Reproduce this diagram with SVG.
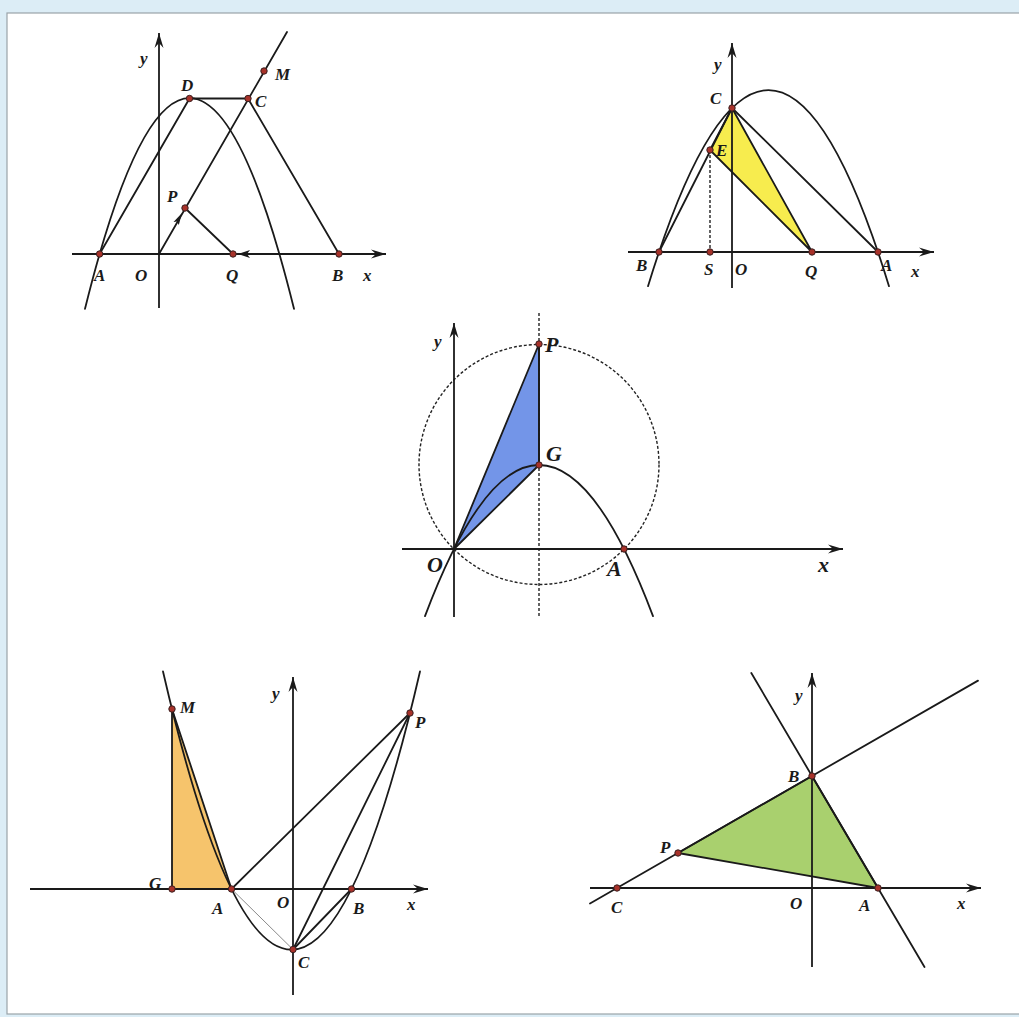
<svg xmlns="http://www.w3.org/2000/svg" width="1019" height="1017" viewBox="0 0 1019 1017">
<style>
.ln{stroke:#1a1a1a;stroke-width:1.8;fill:none;stroke-linecap:round}
.ax{stroke:#1a1a1a;stroke-width:1.8;fill:none;marker-end:url(#arr)}
.ds{stroke:#222;stroke-width:1.4;fill:none;stroke-dasharray:3 2}
.pt{fill:#a8322a;stroke:#3a2020;stroke-width:1}
.lb{font-family:"Liberation Serif","Times New Roman",serif;font-weight:bold;font-style:italic;font-size:17px;fill:#1a1a1a}
.lb2{font-family:"Liberation Serif","Times New Roman",serif;font-weight:bold;font-style:italic;font-size:22px;fill:#1a1a1a}
</style>
<defs>
<marker id="arr" viewBox="-15 -5 16 10" refX="0" refY="0" markerWidth="16" markerHeight="10" markerUnits="userSpaceOnUse" orient="auto">
<path d="M0,0 L-15,-4.5 L-10,0 L-15,4.5 Z" fill="#1a1a1a"/>
</marker>
</defs>
<rect x="0" y="0" width="1019" height="1017" fill="#dcedf6"/>
<rect x="7" y="13" width="1014" height="1001" fill="#ffffff" stroke="#9aa3a8" stroke-width="1.2"/>

<!-- Figure 1 -->
<g id="fig1">
<g id="fig1-connectors">
<line class="ax" x1="72" y1="254" x2="386" y2="254"/>
<line class="ax" x1="159" y1="308" x2="159" y2="33"/>
<path class="ln" d="M85,308.8 Q189.5,-112.7 294,308.8"/>
<polyline class="ln" points="99.6,254 189.5,98.5 248,98.5 339,254"/>
<line class="ln" x1="159" y1="254" x2="287" y2="32"/>
<line class="ln" x1="185" y1="208" x2="233" y2="254"/>
<polygon points="182,213 173.5,222 177,221.5 178.8,225" fill="#1a1a1a"/>
<polygon points="238,254 250,250 247,254 250,258" fill="#1a1a1a"/>
</g>
<g id="fig1-points">
<circle class="pt" cx="99.6" cy="254" r="3.2"/>
<circle class="pt" cx="189.5" cy="98.5" r="3.2"/>
<circle class="pt" cx="248" cy="98.5" r="3.2"/>
<circle class="pt" cx="264" cy="71" r="3.2"/>
<circle class="pt" cx="185" cy="208" r="3.2"/>
<circle class="pt" cx="233" cy="254" r="3.2"/>
<circle class="pt" cx="339" cy="254" r="3.2"/>
</g>
<g id="fig1-labels">
<text class="lb" x="140" y="64">y</text>
<text class="lb" x="181" y="91">D</text>
<text class="lb" x="255" y="107">C</text>
<text class="lb" x="275" y="80">M</text>
<text class="lb" x="167" y="202">P</text>
<text class="lb" x="94" y="281">A</text>
<text class="lb" x="135" y="281">O</text>
<text class="lb" x="226" y="281">Q</text>
<text class="lb" x="332" y="281">B</text>
<text class="lb" x="363" y="281">x</text>
</g>
</g>

<!-- Figure 2 -->
<g id="fig2">
<g id="fig2-connectors">
<polygon points="732,108 710,150 812,252" fill="#f7ec4e" stroke="#1a1a1a" stroke-width="1.8" stroke-linejoin="round"/>
<line class="ax" x1="628" y1="252" x2="934" y2="252"/>
<line class="ax" x1="732" y1="288" x2="732" y2="43"/>
<path class="ln" d="M648,286.2 Q768.5,-106.1 889,286.2"/>
<line class="ln" x1="659" y1="252" x2="732" y2="108"/>
<line class="ln" x1="732" y1="108" x2="878" y2="252"/>
<line class="ds" x1="710" y1="150" x2="710" y2="252"/>
</g>
<g id="fig2-points">
<circle class="pt" cx="732" cy="108" r="3.2"/>
<circle class="pt" cx="710" cy="150" r="3.2"/>
<circle class="pt" cx="659" cy="252" r="3.2"/>
<circle class="pt" cx="710" cy="252" r="3.2"/>
<circle class="pt" cx="812" cy="252" r="3.2"/>
<circle class="pt" cx="878" cy="252" r="3.2"/>
</g>
<g id="fig2-labels">
<text class="lb" x="714" y="70">y</text>
<text class="lb" x="710" y="104">C</text>
<text class="lb" x="716" y="156">E</text>
<text class="lb" x="636" y="271">B</text>
<text class="lb" x="704" y="275">S</text>
<text class="lb" x="735" y="275">O</text>
<text class="lb" x="805" y="277">Q</text>
<text class="lb" x="881" y="271">A</text>
<text class="lb" x="911" y="277">x</text>
</g>
</g>

<!-- Figure 3 -->
<g id="fig3">
<g id="fig3-connectors">
<polygon points="454,549 539,344 539,465" fill="#7395e8" stroke="#1a1a1a" stroke-width="1.8" stroke-linejoin="round"/>
<circle class="ds" cx="539" cy="464.5" r="120"/>
<line class="ds" x1="539" y1="313" x2="539" y2="617"/>
<line class="ln" x1="539" y1="344" x2="539" y2="465"/>
<line class="ax" x1="402" y1="549" x2="843" y2="549"/>
<line class="ax" x1="454" y1="617" x2="454" y2="323"/>
<path class="ln" d="M425,616.1 Q539,313.9 653,616.1"/>
</g>
<g id="fig3-points">
<circle class="pt" cx="539" cy="344" r="3.2"/>
<circle class="pt" cx="539" cy="465" r="3.2"/>
<circle class="pt" cx="624" cy="549" r="3.2"/>
</g>
<g id="fig3-labels">
<text class="lb" x="434" y="347">y</text>
<text class="lb2" x="545" y="352">P</text>
<text class="lb2" x="546" y="461">G</text>
<text class="lb2" x="427" y="572">O</text>
<text class="lb2" x="607" y="576">A</text>
<text class="lb2" x="818" y="572">x</text>
</g>
</g>

<!-- Figure 4 -->
<g id="fig4">
<g id="fig4-connectors">
<polygon points="172,709 172,889 231.5,889" fill="#f6c46c" stroke="#1a1a1a" stroke-width="1.8" stroke-linejoin="round"/>
<line class="ax" x1="30" y1="889" x2="428" y2="889"/>
<line class="ax" x1="293" y1="995" x2="293" y2="677"/>
<path class="ln" d="M163,671.5 Q291.5,1227.9 420,671.5"/>
<line class="ln" x1="231.5" y1="889" x2="410" y2="713"/>
<line class="ln" x1="410" y1="713" x2="293" y2="949.5"/>
<line class="ln" x1="293" y1="949.5" x2="351.5" y2="889"/>
<line x1="231.5" y1="889" x2="293" y2="949.5" stroke="#8a8a8a" stroke-width="1"/>
</g>
<g id="fig4-points">
<circle class="pt" cx="172" cy="709" r="3.2"/>
<circle class="pt" cx="172" cy="889" r="3.2"/>
<circle class="pt" cx="231.5" cy="889" r="3.2"/>
<circle class="pt" cx="351.5" cy="889" r="3.2"/>
<circle class="pt" cx="293" cy="949.5" r="3.2"/>
<circle class="pt" cx="410" cy="713" r="3.2"/>
</g>
<g id="fig4-labels">
<text class="lb" x="272" y="699">y</text>
<text class="lb" x="180" y="713">M</text>
<text class="lb" x="415" y="728">P</text>
<text class="lb" x="149" y="889">G</text>
<text class="lb" x="212" y="914">A</text>
<text class="lb" x="277" y="908">O</text>
<text class="lb" x="353" y="914">B</text>
<text class="lb" x="407" y="910">x</text>
<text class="lb" x="298" y="968">C</text>
</g>
</g>

<!-- Figure 5 -->
<g id="fig5">
<g id="fig5-connectors">
<polygon points="678,853 812,776 878,888" fill="#a9d06e" stroke="#1a1a1a" stroke-width="1.8" stroke-linejoin="round"/>
<line class="ax" x1="590" y1="888" x2="981" y2="888"/>
<line class="ax" x1="812" y1="967" x2="812" y2="673"/>
<line class="ln" x1="590" y1="903.5" x2="978" y2="680.6"/>
<line class="ln" x1="751.3" y1="673" x2="924.5" y2="967"/>
</g>
<g id="fig5-points">
<circle class="pt" cx="812" cy="776" r="3.2"/>
<circle class="pt" cx="678" cy="853" r="3.2"/>
<circle class="pt" cx="617" cy="888" r="3.2"/>
<circle class="pt" cx="878" cy="888" r="3.2"/>
</g>
<g id="fig5-labels">
<text class="lb" x="795" y="701">y</text>
<text class="lb" x="788" y="782">B</text>
<text class="lb" x="660" y="853">P</text>
<text class="lb" x="611" y="913">C</text>
<text class="lb" x="790" y="909">O</text>
<text class="lb" x="859" y="911">A</text>
<text class="lb" x="957" y="909">x</text>
</g>
</g>
</svg>
